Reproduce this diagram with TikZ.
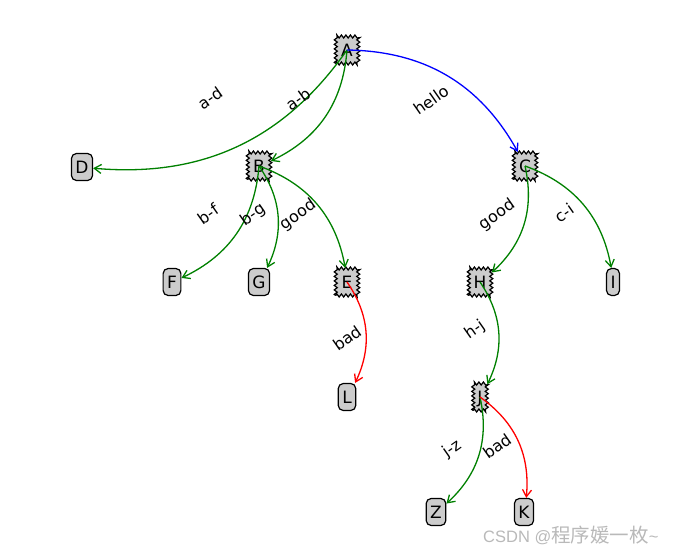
\documentclass[tikz,border=0pt]{standalone}
\usepackage{fontspec}
\setmainfont{DejaVu Sans}
\newfontfamily\cjkfont{Noto Sans CJK SC}
\newfontfamily\wmlatin{Liberation Sans}
\usetikzlibrary{arrows.meta,decorations.pathmorphing}
\definecolor{mplgreen}{RGB}{0,128,0}
\definecolor{mplblue}{RGB}{0,0,255}
\definecolor{mplred}{RGB}{255,0,0}
\definecolor{nodegray}{RGB}{204,204,204}
\definecolor{wmgray}{RGB}{185,185,185}
\begin{document}
\begin{tikzpicture}[x=1pt,y=-1pt,
  base/.style={fill=nodegray, draw=black, line width=1.2pt,
    font=\fontsize{17}{17}\selectfont, inner xsep=4pt, inner ysep=0pt,
    minimum height=27pt, text height=12.4pt, text depth=0pt},
  leaf/.style={base, rounded corners=5pt},
  saw/.style={base, inner xsep=0pt, decorate,
    decoration={zigzag, segment length=4.5pt, amplitude=1.5pt},
    minimum width=22.5pt, minimum height=27pt},
  sawnarrow/.style={saw, minimum width=13.5pt},
  edge/.style={line width=1.3pt, -{Straight Barb[length=7pt,width=9pt]}},
  lab/.style={font=\fontsize{16}{16}\selectfont, rotate=35, inner sep=1pt},
  wm/.style={text=wmgray, anchor=west, inner sep=0pt}
]
\useasboundingbox (0,0) rectangle (680,554);

% nodes
\node[saw]  (A) at (347,50)  {A};
\node[leaf] (D) at (82,167)  {D};
\node[saw]  (B) at (259,166) {B};
\node[saw]  (C) at (525,166) {C};
\node[leaf] (F) at (172,282) {F};
\node[leaf] (G) at (259,282) {G};
\node[saw]  (E) at (347,282) {E};
\node[saw]  (H) at (480,282) {H};
\node[leaf] (I) at (613,282) {I};
\node[leaf] (L) at (347,397) {L};
\node[sawnarrow] (J) at (480,397) {J};
\node[leaf] (Z) at (436,512) {Z};
\node[leaf] (K) at (524,512) {K};

% edges
\draw[edge, mplgreen] (A.center) to[bend left=30] (D);
\draw[edge, mplgreen] (A.center) to[bend left=30] (B);
\draw[edge, mplblue]  (A.center) to[bend left=30] (C);
\draw[edge, mplgreen] (B.center) to[bend left=30] (F);
\draw[edge, mplgreen] (B.center) to[bend left=30] (G);
\draw[edge, mplgreen] (B.center) to[bend left=30] (E);
\draw[edge, mplgreen] (C.center) to[bend left=30] (H);
\draw[edge, mplgreen] (C.center) to[bend left=30] (I);
\draw[edge, mplred]   (E.center) to[bend left=30] (L);
\draw[edge, mplgreen] (H.center) to[bend left=30] (J);
\draw[edge, mplgreen] (J.center) to[bend left=30] (Z);
\draw[edge, mplred]   (J.center) to[bend left=30] (K);

% edge labels
\node[lab] (lad) at (210,98)  {a-d};
\node[lab] (lab) at (298,99)  {a-b};
\node[lab] (lac) at (431,100) {hello};
\node[lab] (lbf) at (208,214) {b-f};
\node[lab] (lbg) at (253,215) {b-g};
\node[lab] (lbe) at (298,215) {good};
\node[lab] (lch) at (497,215) {good};
\node[lab] (lci) at (564,213) {c-i};
\node[lab] (lel) at (347,338) {bad};
\node[lab] (lhj) at (475,330) {h-j};
\node[lab] (ljz) at (452,449) {j-z};
\node[lab] (ljk) at (497,446) {bad};

% watermark
\node[wm] (wmk) at (483,535) {{\wmlatin\fontsize{16.5}{16.5}\selectfont CSDN @}{\cjkfont\fontsize{19.5}{19.5}\selectfont 程序媛一枚}{\wmlatin\fontsize{16.5}{16.5}\selectfont\textasciitilde}};
\end{tikzpicture}
\end{document}
